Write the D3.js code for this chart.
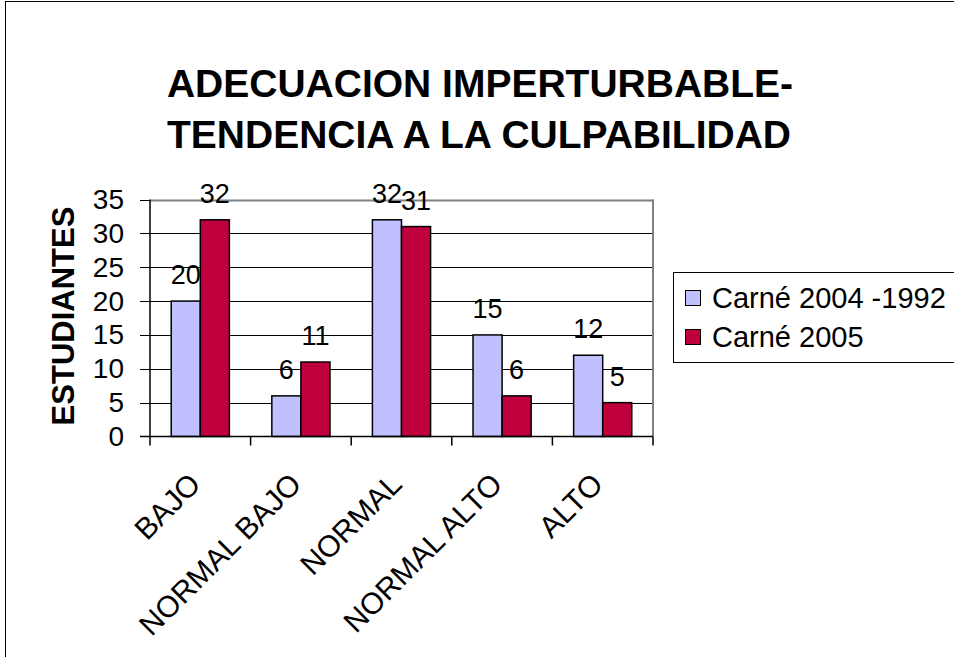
<!DOCTYPE html>
<html>
<head>
<meta charset="utf-8">
<script src="https://d3js.org/d3.v7.min.js"></script>
<style>
  body { margin: 0; background: #fff; }
  text { font-family: Arial, "Liberation Sans", sans-serif; }
</style>
</head>
<body>
<svg width="954" height="657"></svg>
<script>
var categories = ["BAJO", "NORMAL BAJO", "NORMAL", "NORMAL ALTO", "ALTO"];
var seriesNames = ["Carné 2004 -1992", "Carné 2005"];
var carne2004 = [20, 6, 32, 15, 12];
var carne2005 = [32, 11, 31, 6, 5];
var yTicks = [0, 5, 10, 15, 20, 25, 30, 35];
var colors = ["#c0c0ff", "#c0003c"];

var svg = d3.select("svg");
svg.append("rect").attr("width", 954).attr("height", 657).attr("fill", "#fff");
// outer frame
svg.append("rect")
  .attr("x", 5.5).attr("y", 1.5).attr("width", 1000).attr("height", 700)
  .attr("fill", "none").attr("stroke", "#000");

// title
var title = svg.append("text")
  .attr("text-anchor", "middle")
  .attr("font-weight", "bold")
  .attr("font-size", 39);
title.append("tspan").attr("x", 480).attr("y", 97).text("ADECUACION IMPERTURBABLE-");
title.append("tspan").attr("x", 479).attr("y", 148).text("TENDENCIA A LA CULPABILIDAD");

var plotL = 150, plotR = 653, plotT = 199.5, plotB = 436.5;

var x = d3.scaleBand().domain(categories).range([plotL, plotR]);
var xs = d3.scaleBand().domain([0, 1]).range([0, x.bandwidth()]).paddingOuter(0.73);
var y = d3.scaleLinear().domain([0, 35]).range([plotB, plotT]);

// gridlines
svg.append("g").selectAll("line")
  .data(yTicks.slice(1)).enter().append("line")
  .attr("x1", function(d) { return d === 35 ? plotL : plotL - 10; }).attr("x2", plotR)
  .attr("y1", function(d) { return Math.round(y(d)) + 0.5; })
  .attr("y2", function(d) { return Math.round(y(d)) + 0.5; })
  .attr("stroke", function(d) { return d === 35 ? "#808080" : "#000"; })
  .attr("stroke-width", function(d) { return d === 35 ? 2 : 1; });
svg.append("line")
  .attr("x1", plotL - 10).attr("x2", plotL)
  .attr("y1", Math.round(y(35)) + 0.5).attr("y2", Math.round(y(35)) + 0.5)
  .attr("stroke", "#000");
// plot right border
svg.append("line")
  .attr("x1", plotR).attr("x2", plotR).attr("y1", plotT).attr("y2", plotB)
  .attr("stroke", "#808080").attr("stroke-width", 2);

// bars
var data = [];
categories.forEach(function(c, i) {
  data.push({ cat: c, s: 0, v: carne2004[i] });
  data.push({ cat: c, s: 1, v: carne2005[i] });
});
svg.append("g").selectAll("rect")
  .data(data).enter().append("rect")
  .attr("x", function(d) { return x(d.cat) + xs(d.s); })
  .attr("y", function(d) { return y(d.v); })
  .attr("width", xs.bandwidth())
  .attr("height", function(d) { return plotB - y(d.v); })
  .attr("fill", function(d) { return colors[d.s]; })
  .attr("stroke", "#000").attr("stroke-width", 1.5);

// data labels
svg.append("g").selectAll("text")
  .data(data).enter().append("text")
  .attr("x", function(d) { return x(d.cat) + xs(d.s) + xs.bandwidth() / 2; })
  .attr("y", function(d) { return y(d.v) - 17; })
  .attr("text-anchor", "middle")
  .attr("font-size", 27)
  .text(function(d) { return d.v; });

// y axis
var yAxis = svg.append("g")
  .attr("transform", "translate(" + plotL + ",0)")
  .call(d3.axisLeft(y).tickValues(yTicks).tickSize(10).tickPadding(16));
yAxis.select(".domain").remove();
yAxis.selectAll(".tick line").remove();
yAxis.selectAll("text").attr("font-size", 28).attr("fill", "#000")
  .attr("font-family", "Arial, 'Liberation Sans', sans-serif");
svg.append("line")
  .attr("x1", plotL).attr("x2", plotL).attr("y1", plotT).attr("y2", plotB)
  .attr("stroke", "#000").attr("stroke-width", 1.5);

// x axis
var xAxis = svg.append("g")
  .attr("transform", "translate(0," + plotB + ")")
  .call(d3.axisBottom(x).tickSize(0).tickFormat(""));
xAxis.select(".domain").remove();
svg.append("line")
  .attr("x1", plotL - 10).attr("x2", plotR).attr("y1", plotB).attr("y2", plotB)
  .attr("stroke", "#000").attr("stroke-width", 1.5);
var bounds = categories.map(function(c) { return x(c); }).concat([plotR]);
svg.append("g").selectAll("line")
  .data(bounds).enter().append("line")
  .attr("x1", function(d) { return d; }).attr("x2", function(d) { return d; })
  .attr("y1", plotB).attr("y2", plotB + 9)
  .attr("stroke", "#000").attr("stroke-width", 1.5);

svg.append("g").selectAll("text")
  .data(categories).enter().append("text")
  .attr("transform", function(d) {
    return "translate(" + (x(d) + x.bandwidth() / 2 + 2) + "," + 486 + ") rotate(-45)";
  })
  .attr("text-anchor", "end")
  .attr("font-size", 30)
  .text(function(d) { return d; });

// y title
svg.append("text")
  .attr("transform", "translate(74,316) rotate(-90)")
  .attr("text-anchor", "middle")
  .attr("font-weight", "bold")
  .attr("font-size", 31)
  .text("ESTUDIANTES");

// legend
var lg = svg.append("g");
lg.append("rect")
  .attr("x", 673.5).attr("y", 272.5).attr("width", 320).attr("height", 90)
  .attr("fill", "#fff").attr("stroke", "#000");
seriesNames.forEach(function(name, i) {
  lg.append("rect")
    .attr("x", 685.5).attr("y", 290.5 + i * 39).attr("width", 15).attr("height", 15)
    .attr("fill", colors[i]).attr("stroke", "#000");
  lg.append("text")
    .attr("x", 712).attr("y", 308 + i * 39)
    .attr("font-size", 29)
    .text(name);
});
</script>
</body>
</html>
